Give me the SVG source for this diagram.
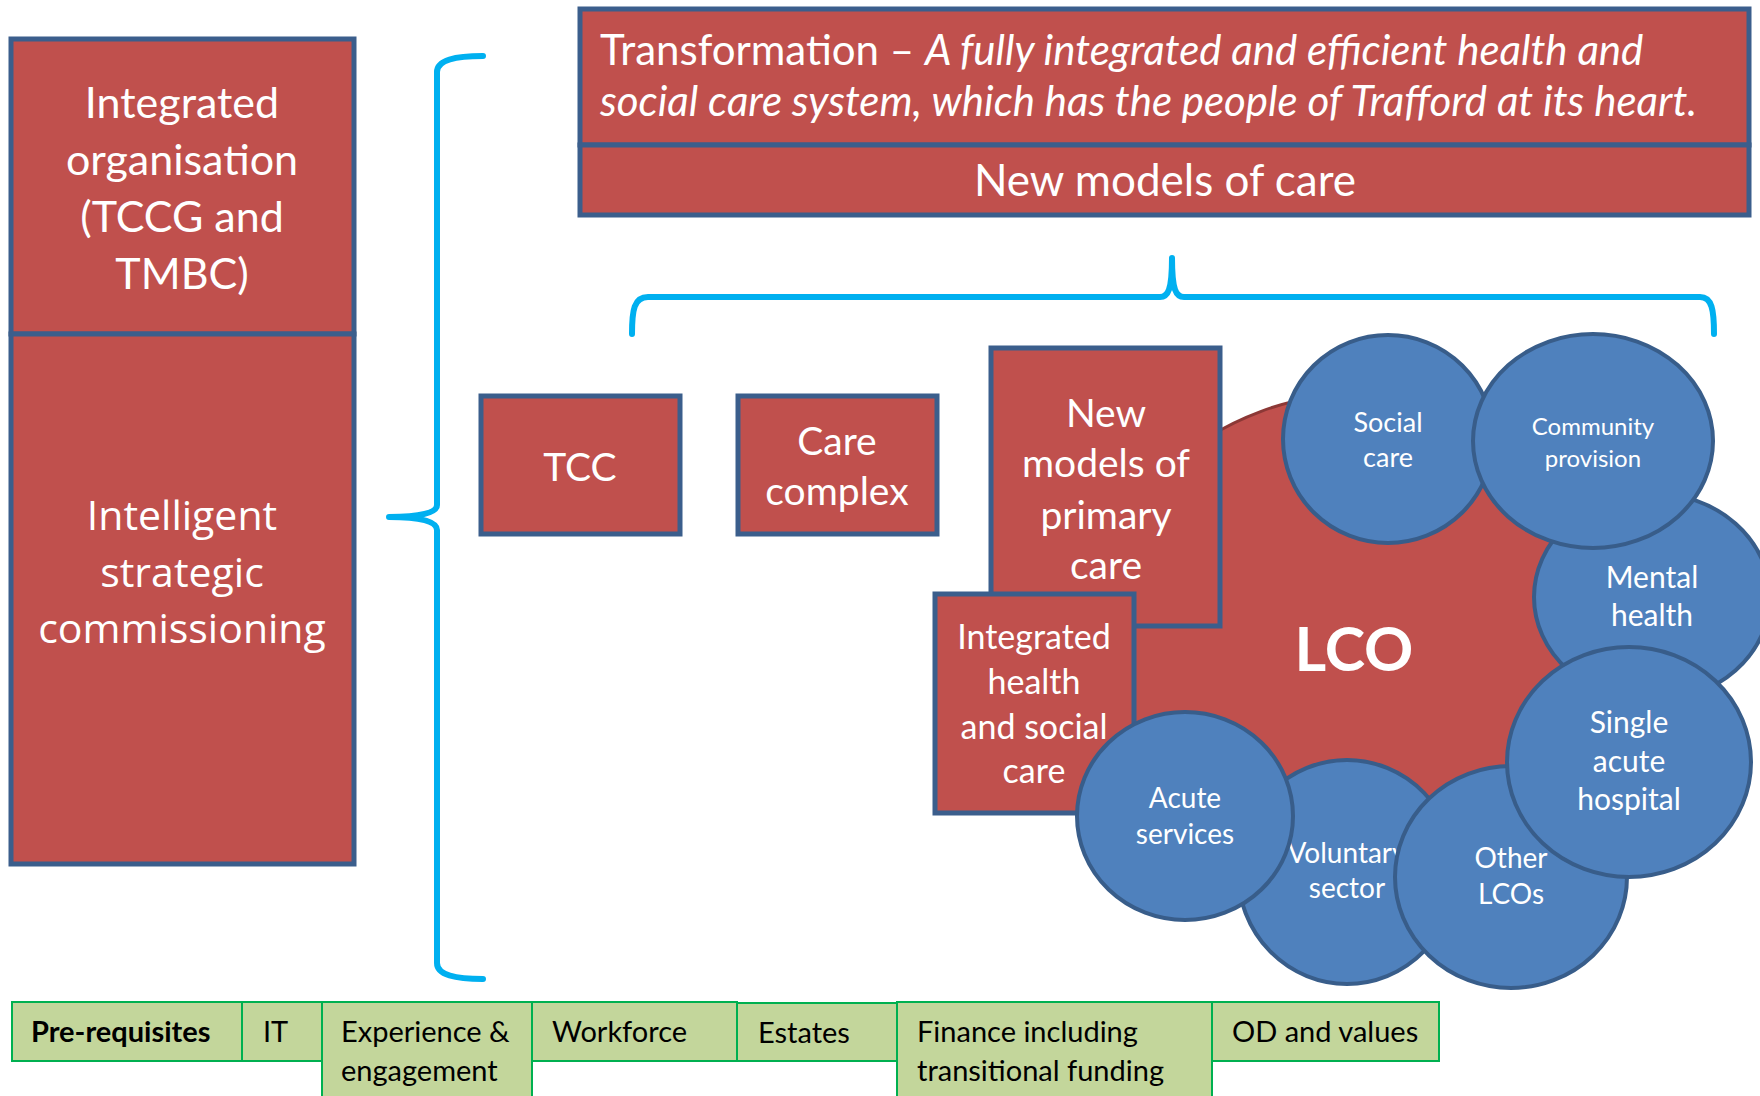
<svg xmlns="http://www.w3.org/2000/svg" width="1760" height="1096" viewBox="0 0 1760 1096">
<style>
.box{fill:#c0504d;stroke:#3b5e8c;stroke-width:5}
.circ{fill:#4f81bd;stroke:#385d8a;stroke-width:4}
.cell{fill:#c3d69b;stroke:#00b050;stroke-width:2}
.wt{fill:#fff;font-family:Lato,"Liberation Sans",sans-serif;text-anchor:middle}
.os{fill:#fff;font-family:"Open Sans","Liberation Sans",sans-serif;text-anchor:middle}
.bt{fill:#000;font-family:Lato,"Liberation Sans",sans-serif;font-size:29px}
.br{fill:none;stroke:#00b0f0;stroke-width:6;stroke-linecap:round;stroke-linejoin:round}
</style>
<rect width="1760" height="1096" fill="#fff"/>

<g id="integrated-organisation">
<rect class="box" x="11" y="39" width="343" height="295"/>
<text class="wt" font-size="43"><tspan x="182" y="118">Integrated</tspan><tspan x="182" y="175">organisation</tspan><tspan x="182" y="232">(TCCG and</tspan><tspan x="182" y="289">TMBC)</tspan></text>
</g>
<g id="intelligent-commissioning">
<rect class="box" x="11" y="334" width="343" height="530"/>
<text class="os" font-size="41"><tspan x="182" y="530">Intelligent</tspan><tspan x="182" y="587">strategic</tspan><tspan x="182" y="643">commissioning</tspan></text>
</g>

<g id="transformation">
<rect class="box" x="580" y="9" width="1169" height="136"/>
<text class="wt" font-size="42" style="text-anchor:start"><tspan x="600" y="65">Transformation – <tspan font-style="italic">A fully integrated and efficient health and</tspan></tspan><tspan x="600" y="116" font-style="italic">social care system, which has the people of Trafford at its heart.</tspan></text>
</g>
<g id="new-models-of-care">
<rect class="box" x="580" y="145" width="1169" height="70"/>
<text class="wt" font-size="44" x="1165" y="196">New models of care</text>
</g>

<g id="connectors">
<path class="br" d="M483,56 C455,56 437,60 437,72 L437,505 C437,513 420,517 389,517 C420,517 437,521 437,530 L437,963 C437,975 455,979 483,979"/>
<path class="br" d="M632,334 C632,310 634,297 648,297 L1160,297 C1168,297 1172,290 1172,258 C1172,290 1176,297 1184,297 L1700,297 C1712,297 1714,310 1714,334"/>
</g>

<g id="tcc">
<rect class="box" x="481" y="396" width="199" height="138"/>
<text class="wt" font-size="39" x="580" y="481">TCC</text>
</g>
<g id="care-complex">
<rect class="box" x="738" y="396" width="199" height="138"/>
<text class="wt" font-size="39"><tspan x="837" y="455">Care</tspan><tspan x="837" y="505">complex</tspan></text>
</g>

<g id="lco">
<ellipse cx="1364" cy="657" rx="281" ry="264" fill="#c0504d" stroke="#8c3836" stroke-width="3"/>
<text class="wt" font-size="61" font-weight="bold" x="1354" y="671">LCO</text>
</g>

<g id="new-models-primary-care">
<rect class="box" x="991" y="348" width="229" height="278"/>
<text class="wt" font-size="39"><tspan x="1106" y="427">New</tspan><tspan x="1106" y="477">models of</tspan><tspan x="1106" y="529">primary</tspan><tspan x="1106" y="579">care</tspan></text>
</g>
<g id="integrated-health-social-care">
<rect class="box" x="935" y="594" width="199" height="219"/>
<text class="wt" font-size="34"><tspan x="1034" y="649">Integrated</tspan><tspan x="1034" y="694">health</tspan><tspan x="1034" y="739">and social</tspan><tspan x="1034" y="783">care</tspan></text>
</g>

<g id="mental-health">
<ellipse class="circ" cx="1652" cy="597" rx="118" ry="104"/>
<text class="wt" font-size="30"><tspan x="1652" y="588">Mental</tspan><tspan x="1652" y="626">health</tspan></text>
</g>
<g id="social-care">
<ellipse class="circ" cx="1388" cy="439" rx="105" ry="104"/>
<text class="wt" font-size="27"><tspan x="1388" y="432">Social</tspan><tspan x="1388" y="467">care</tspan></text>
</g>
<g id="community-provision">
<ellipse class="circ" cx="1593" cy="441" rx="120" ry="107"/>
<text class="wt" font-size="24"><tspan x="1593" y="435">Community</tspan><tspan x="1593" y="467">provision</tspan></text>
</g>
<g id="voluntary-sector">
<ellipse class="circ" cx="1347" cy="872" rx="109" ry="112"/>
<text class="wt" font-size="28"><tspan x="1347" y="863">Voluntary</tspan><tspan x="1347" y="898">sector</tspan></text>
</g>
<g id="acute-services">
<ellipse class="circ" cx="1185" cy="816" rx="108" ry="104"/>
<text class="wt" font-size="28"><tspan x="1185" y="808">Acute</tspan><tspan x="1185" y="844">services</tspan></text>
</g>
<g id="other-lcos">
<ellipse class="circ" cx="1511" cy="877" rx="116" ry="111"/>
<text class="wt" font-size="28"><tspan x="1511" y="868">Other</tspan><tspan x="1511" y="904">LCOs</tspan></text>
</g>
<g id="single-acute-hospital">
<ellipse class="circ" cx="1629" cy="762" rx="122" ry="115"/>
<text class="wt" font-size="30"><tspan x="1629" y="733">Single</tspan><tspan x="1629" y="772">acute</tspan><tspan x="1629" y="810">hospital</tspan></text>
</g>

<g id="pre-requisites">
<rect class="cell" x="12" y="1002" width="230" height="59"/>
<text class="bt" font-weight="bold" x="31" y="1042">Pre-requisites</text>
</g>
<g id="it">
<rect class="cell" x="242" y="1002" width="80" height="59"/>
<text class="bt" x="263" y="1042">IT</text>
</g>
<g id="experience">
<rect class="cell" x="322" y="1002" width="210" height="100"/>
<text class="bt"><tspan x="341" y="1042">Experience &amp;</tspan><tspan x="341" y="1081">engagement</tspan></text>
</g>
<g id="workforce">
<rect class="cell" x="532" y="1002" width="205" height="59"/>
<text class="bt" x="552" y="1042">Workforce</text>
</g>
<g id="estates">
<rect class="cell" x="737" y="1003" width="160" height="58"/>
<text class="bt" x="758" y="1043">Estates</text>
</g>
<g id="finance">
<rect class="cell" x="897" y="1002" width="315" height="100"/>
<text class="bt"><tspan x="917" y="1042">Finance including</tspan><tspan x="917" y="1081">transitional funding</tspan></text>
</g>
<g id="od-values">
<rect class="cell" x="1212" y="1002" width="227" height="59"/>
<text class="bt" x="1232" y="1042">OD and values</text>
</g>
</svg>
